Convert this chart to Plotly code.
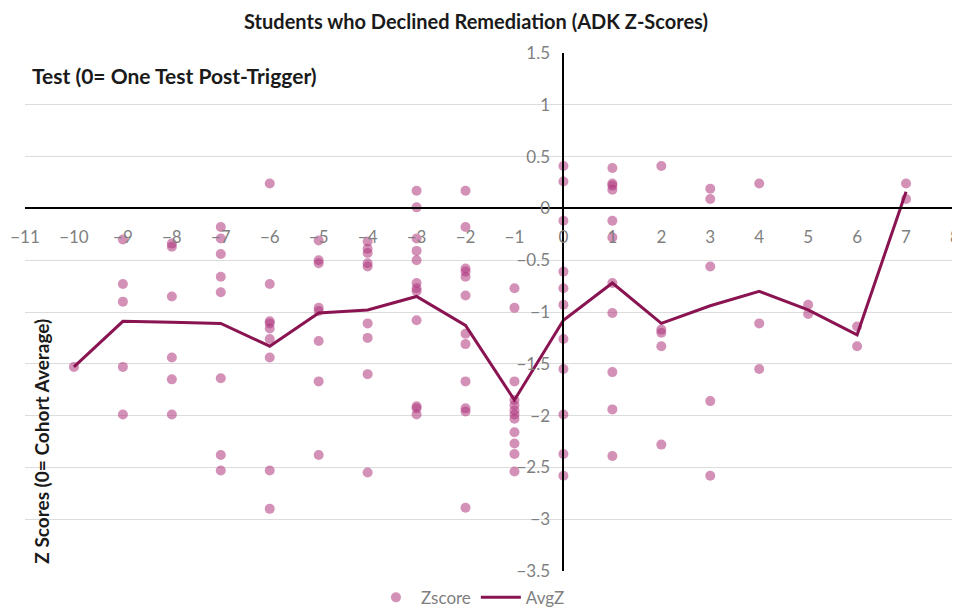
import plotly.graph_objects as go

# Test index (0 = one test post-trigger)
tests = [-10, -9, -8, -7, -6, -5, -4, -3, -2, -1, 0, 1, 2, 3, 4, 5, 6, 7]

# Individual student z-scores per test
z_m10 = [-1.53]
z_m9 = [-0.30, -0.73, -0.90, -1.53, -1.99]
z_m8 = [-0.34, -0.37, -0.85, -1.44, -1.65, -1.99]
z_m7 = [-0.18, -0.29, -0.44, -0.66, -0.81, -1.64, -2.38, -2.53]
z_m6 = [0.24, -0.73, -1.09, -1.11, -1.16, -1.26, -1.44, -2.53, -2.90]
z_m5 = [-0.31, -0.50, -0.53, -0.96, -0.99, -1.28, -1.67, -2.38]
z_m4 = [-0.32, -0.39, -0.43, -0.53, -0.56, -1.11, -1.25, -1.60, -2.55]
z_m3 = [0.17, 0.01, -0.29, -0.41, -0.50, -0.72, -0.77, -0.80, -1.08, -1.91, -1.93, -1.99]
z_m2 = [0.17, -0.18, -0.58, -0.61, -0.66, -0.84, -1.21, -1.31, -1.67, -1.93, -1.96, -2.89]
z_m1 = [-0.77, -0.96, -1.67, -1.85, -1.90, -1.95, -1.99, -2.03, -2.16, -2.27, -2.37, -2.54]
z_0 = [0.41, 0.26, -0.12, -0.61, -0.77, -0.93, -1.26, -1.55, -1.99, -2.37, -2.58]
z_1 = [0.39, 0.24, 0.22, 0.18, -0.12, -0.28, -0.72, -1.01, -1.58, -1.94, -2.39]
z_2 = [0.41, -1.17, -1.20, -1.33, -2.28]
z_3 = [0.19, 0.09, -0.56, -1.86, -2.58]
z_4 = [0.24, -1.11, -1.55]
z_5 = [-0.93, -1.02]
z_6 = [-1.14, -1.33]
z_7 = [0.24, 0.09]

zscores_by_test = [z_m10, z_m9, z_m8, z_m7, z_m6, z_m5, z_m4, z_m3, z_m2,
                   z_m1, z_0, z_1, z_2, z_3, z_4, z_5, z_6, z_7]

# Average z-score per test
avg_z = [-1.53, -1.09, -1.10, -1.11, -1.33, -1.01, -0.98, -0.85, -1.13,
         -1.85, -1.08, -0.72, -1.11, -0.94, -0.80, -0.98, -1.22, 0.16]

x_ticks = list(range(-11, 9))
y_ticks = [1.5, 1, 0.5, 0, -0.5, -1, -1.5, -2, -2.5, -3, -3.5]

scatter_x = []
scatter_y = []
for t, zs in zip(tests, zscores_by_test):
    scatter_x += [t] * len(zs)
    scatter_y += zs

FONT = "Lato"

fig = go.Figure()
fig.add_trace(go.Scatter(
    x=scatter_x, y=scatter_y, mode="markers", name="Zscore",
    marker=dict(size=10, color="rgb(175,55,125)", opacity=0.55,
                line=dict(width=0)),
))
fig.add_trace(go.Scatter(
    x=tests, y=avg_z, mode="lines", name="AvgZ",
    line=dict(color="rgb(138,20,82)", width=3),
))

fig.update_layout(
    width=952, height=600,
    margin=dict(l=17, r=5, t=45, b=37, autoexpand=False),
    paper_bgcolor="white", plot_bgcolor="white",
    font=dict(family=FONT, color="#7f7f7f", size=17),
    title=dict(text="<b>Students who Declined Remediation (ADK Z-Scores)</b>",
               x=0.4916, xanchor="center", y=0.977, yanchor="middle",
               font=dict(family=FONT, size=20, color="#1a1a1a")),
    showlegend=True,
    legend=dict(orientation="h", x=0.372, xanchor="left", y=-0.017,
                yanchor="top", font=dict(family=FONT, size=17, color="#7f7f7f"),
                itemwidth=40, bgcolor="rgba(0,0,0,0)"),
    xaxis=dict(range=[-11, 8], tickvals=x_ticks, showgrid=False,
               zeroline=False, showline=True, linecolor="black", linewidth=2,
               anchor="free", position=0.7, ticks="", ticklabelstandoff=13,
               automargin=False, ticklabeloverflow="allow",
               tickfont=dict(family=FONT, size=17, color="#7f7f7f")),
    yaxis=dict(range=[-3.5, 1.5], tickvals=y_ticks, showgrid=True,
               gridcolor="#dcdcdc", gridwidth=1, zeroline=False,
               showline=True, linecolor="black", linewidth=2,
               anchor="free", position=11 / 19, ticks="", ticklabelstandoff=9,
               automargin=False, ticklabeloverflow="allow",
               tickfont=dict(family=FONT, size=17, color="#7f7f7f")),
    annotations=[
        dict(text="<b>Test (0= One Test Post-Trigger)</b>", xref="paper",
             yref="paper", x=0.0054, y=0.9575, xanchor="left", yanchor="middle",
             showarrow=False, font=dict(family=FONT, size=21, color="#1a1a1a")),
        dict(text="<b>Z Scores (0= Cohort Average)</b>", xref="paper",
             yref="paper", x=0.018, y=0.251, xanchor="center",
             yanchor="middle", textangle=-90, showarrow=False,
             font=dict(family=FONT, size=19, color="#1a1a1a")),
    ],
)

fig.write_html("out.html")
